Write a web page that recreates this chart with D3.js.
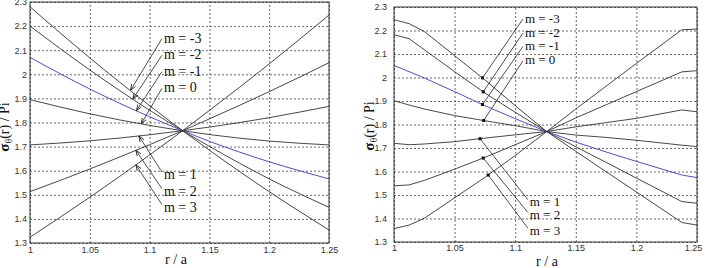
<!DOCTYPE html>
<html>
<head>
<meta charset="utf-8">
<script src="https://cdn.jsdelivr.net/npm/d3@7"></script>
<style>
  body { margin: 0; background: #fff; }
  svg { display: block; }
</style>
</head>
<body>
<svg id="chart" width="705" height="268"></svg>
<script>
// ---- data ----
var mLabels = ["m = -3", "m = -2", "m = -1", "m = 0", "m = 1", "m = 2", "m = 3"];
var yTicks = [1.3, 1.4, 1.5, 1.6, 1.7, 1.8, 1.9, 2, 2.1, 2.2, 2.3];
var xTicks = [1, 1.05, 1.1, 1.15, 1.2, 1.25];

// left panel (analytic curves)
var xLeft = [1, 1.05, 1.1, 1.1276, 1.15, 1.2, 1.25];
var leftM3n = [2.280, 2.068, 1.870, 1.766, 1.685, 1.513, 1.354];
var leftM2n = [2.200, 2.018, 1.851, 1.766, 1.701, 1.566, 1.448];
var leftM1n = [2.070, 1.939, 1.824, 1.766, 1.722, 1.637, 1.566];
var leftM0  = [1.895, 1.836, 1.788, 1.766, 1.750, 1.723, 1.707];
var leftM1  = [1.707, 1.724, 1.749, 1.766, 1.781, 1.820, 1.867];
var leftM2  = [1.513, 1.607, 1.708, 1.766, 1.815, 1.928, 2.048];
var leftM3  = [1.324, 1.490, 1.665, 1.766, 1.850, 2.043, 2.246];

// right panel (numerical curves)
var xRight = [1, 1.0125, 1.025, 1.05, 1.075, 1.1, 1.126, 1.15, 1.175, 1.2, 1.2375, 1.25];
var rightM3n = [2.246, 2.229, 2.196, 2.093, 1.990, 1.880, 1.770, 1.686, 1.599, 1.513, 1.383, 1.372];
var rightM2n = [2.182, 2.165, 2.118, 2.025, 1.934, 1.852, 1.770, 1.705, 1.639, 1.572, 1.472, 1.465];
var rightM1n = [2.051, 2.025, 1.998, 1.940, 1.880, 1.825, 1.770, 1.725, 1.683, 1.643, 1.585, 1.574];
var rightM0  = [1.901, 1.883, 1.866, 1.838, 1.816, 1.795, 1.770, 1.755, 1.745, 1.733, 1.712, 1.706];
var rightM1  = [1.720, 1.714, 1.717, 1.727, 1.742, 1.756, 1.770, 1.790, 1.808, 1.826, 1.862, 1.854];
var rightM2  = [1.539, 1.543, 1.562, 1.610, 1.660, 1.714, 1.770, 1.828, 1.884, 1.940, 2.024, 2.029];
var rightM3  = [1.357, 1.372, 1.401, 1.488, 1.575, 1.668, 1.770, 1.866, 1.963, 2.060, 2.203, 2.206];

// annotations: where each arrow / dot sits on its curve (r/a), and where the label sits (data units)
var leftTipX   = [1.084, 1.086, 1.089, 1.093, 1.091, 1.0885, 1.0885];
var leftTextX  = [1.112, 1.112, 1.112, 1.112, 1.112, 1.112, 1.112];
var leftTextY  = [2.152, 2.083, 2.015, 1.946, 1.586, 1.517, 1.451];
var rightTipX  = [1.073, 1.0736, 1.073, 1.074, 1.071, 1.0736, 1.0777];
var rightTextX = [1.108, 1.108, 1.108, 1.108, 1.112, 1.112, 1.112];
var rightTextY = [2.253, 2.193, 2.136, 2.075, 1.472, 1.418, 1.351];

var serif = "'Liberation Serif', 'DejaVu Serif', serif";
var sans = "'Liberation Sans', Arial, sans-serif";

var svg = d3.select("#chart");

svg.append("defs").append("marker")
    .attr("id", "arr")
    .attr("viewBox", "0 -4 8 8")
    .attr("refX", 8).attr("refY", 0)
    .attr("markerWidth", 6).attr("markerHeight", 6)
    .attr("markerUnits", "userSpaceOnUse")
    .attr("orient", "auto")
    .append("path")
    .attr("d", "M0,-3L8,0L0,3")
    .attr("fill", "none")
    .attr("stroke", "#222")
    .attr("stroke-width", 1.1);

function interp(xs, ys, x) {
  var i = d3.bisectRight(xs, x) - 1;
  i = Math.max(0, Math.min(xs.length - 2, i));
  var t = (x - xs[i]) / (xs[i + 1] - xs[i]);
  return ys[i] + t * (ys[i + 1] - ys[i]);
}

function styleGrid(a) {
  a.select(".domain").remove();
  a.selectAll(".tick line").attr("stroke", "#444").attr("stroke-dasharray", "2,2").attr("stroke-width", 0.8);
  a.selectAll(".tick text").style("font-family", sans).style("font-size", "9px").attr("fill", "#333");
}

function drawPanel(opt) {
  var x = d3.scaleLinear().domain([1, 1.25]).range([opt.left, opt.right]);
  var y = d3.scaleLinear().domain([1.3, 2.3]).range([opt.bottom, opt.top]);
  var g = svg.append("g");
  var w = opt.right - opt.left, h = opt.bottom - opt.top;

  // grid + tick labels
  var xa = g.append("g").attr("transform", "translate(0," + opt.bottom + ")")
    .call(d3.axisBottom(x).tickValues(xTicks).tickSize(-h).tickFormat(d3.format("~g")).tickPadding(opt.xPad))
    .call(styleGrid);
  // keep the last x label inside the window
  xa.selectAll(".tick text").filter(function(d) { return d === 1.25; })
    .attr("dx", opt.lastDx);
  g.append("g").attr("transform", "translate(" + opt.left + ",0)")
    .call(d3.axisLeft(y).tickValues(yTicks).tickSize(-w).tickFormat(d3.format("~g")).tickPadding(opt.yPad))
    .call(styleGrid);

  // curves
  var line = d3.line()
      .x(function(d) { return x(d[0]); })
      .y(function(d) { return y(d[1]); })
      .curve(opt.curve);
  opt.series.forEach(function(s, k) {
    g.append("path")
      .datum(opt.xs.map(function(v, i) { return [v, s[i]]; }))
      .attr("d", line)
      .attr("fill", "none")
      .attr("stroke", k === 2 ? "#3a3acf" : "#333")
      .attr("stroke-width", 0.9);
  });

  // frame
  g.append("rect")
    .attr("x", opt.left).attr("y", opt.top)
    .attr("width", w).attr("height", h)
    .attr("fill", "none").attr("stroke", "#333").attr("stroke-width", 1);

  // annotations
  mLabels.forEach(function(lab, k) {
    var tx = opt.tipX[k], ty = interp(opt.xs, opt.series[k], tx);
    var lx = x(opt.textX[k]) - 2, ly = y(opt.textY[k]) + (k < 4 ? 1 : -2);
    var ln = g.append("line")
      .attr("x1", lx).attr("y1", ly)
      .attr("x2", x(tx)).attr("y2", y(ty))
      .attr("stroke", "#222").attr("stroke-width", 0.8);
    if (opt.arrows) {
      ln.attr("marker-end", "url(#arr)");
    } else {
      g.append("rect")
        .attr("x", x(tx) - 1.5).attr("y", y(ty) - 1.5)
        .attr("width", 3).attr("height", 3)
        .attr("fill", "#111");
    }
    g.append("text")
      .style("font-family", serif).style("font-size", opt.labelSize + "px")
      .attr("fill", "#111")
      .attr("x", x(opt.textX[k])).attr("y", y(opt.textY[k]))
      .attr("dy", "0.35em")
      .text(lab);
  });

  // axis titles
  g.append("text")
    .style("font-family", serif).style("font-size", "14px").attr("fill", "#111")
    .attr("x", opt.xLabel[0]).attr("y", opt.xLabel[1])
    .attr("text-anchor", "middle")
    .text("r / a");
  var yl = g.append("text")
    .style("font-family", serif).style("font-size", "14px").attr("fill", "#111")
    .attr("transform", "translate(" + opt.yLabel[0] + "," + opt.yLabel[1] + ") rotate(-90)")
    .attr("text-anchor", "middle");
  yl.append("tspan").style("font-weight", "bold").style("font-size", "15px").text("σ");
  yl.append("tspan").attr("dy", 3).style("font-size", "10px").text("θ");
  yl.append("tspan").attr("dy", -3).text("(r) / Pi");
}

drawPanel({
  left: 30, right: 329, top: 2, bottom: 243,
  xPad: 4, yPad: 3, lastDx: 0,
  xs: xLeft,
  series: [leftM3n, leftM2n, leftM1n, leftM0, leftM1, leftM2, leftM3],
  curve: d3.curveMonotoneX,
  tipX: leftTipX, textX: leftTextX, textY: leftTextY,
  arrows: true, labelSize: 14,
  xLabel: [176, 264],
  yLabel: [9, 127]
});

drawPanel({
  left: 394, right: 697, top: 7, bottom: 242,
  xPad: 3, yPad: 7, lastDx: -4,
  xs: xRight,
  series: [rightM3n, rightM2n, rightM1n, rightM0, rightM1, rightM2, rightM3],
  curve: d3.curveLinear,
  tipX: rightTipX, textX: rightTextX, textY: rightTextY,
  arrows: false, labelSize: 13,
  xLabel: [547, 266],
  yLabel: [374, 126]
});
</script>
</body>
</html>
